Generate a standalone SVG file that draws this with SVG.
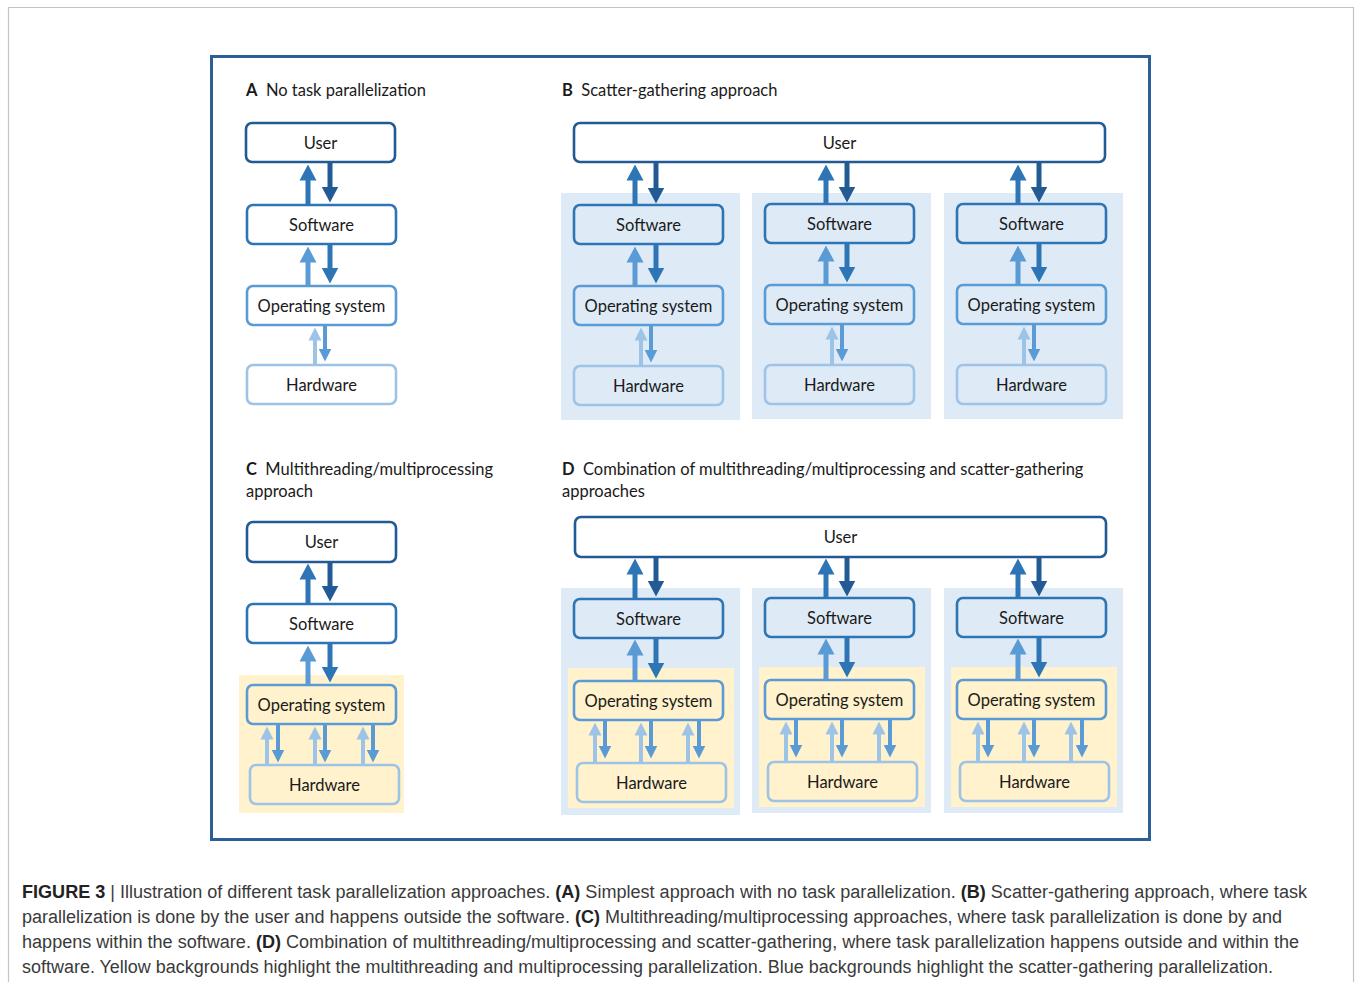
<svg xmlns="http://www.w3.org/2000/svg" width="1356" height="982" viewBox="0 0 1356 982">
<style>
.t{font-family:Lato,"Liberation Sans",sans-serif;font-size:16.5px;fill:#1a1a1a;text-anchor:middle;dominant-baseline:central}
.ttl{font-family:Lato,"Liberation Sans",sans-serif;font-size:16.5px;fill:#1a1a1a}
.ttl .b{font-weight:bold}
.box{fill:none;stroke-width:2.6}
.k1{stroke:#215a94}.k2{stroke:#2e75b6}.k3{stroke:#5b9bd5}.k4{stroke:#9dc3e6}
.bg-b{fill:#deebf7}.bg-y{fill:#fff2cc}
.a{fill:none;stroke-width:5}
.s{fill:none;stroke-width:4}
.cap{font-family:"Liberation Sans",Arial,sans-serif;font-size:18px;fill:#3a3a3a}
.cap .b{font-weight:bold;fill:#222}
</style>
<defs>
<marker id="m1" markerUnits="userSpaceOnUse" viewBox="0 -9 16 18" markerWidth="16" markerHeight="18" refX="0.5" refY="0" orient="auto"><path d="M0,-8.5 L16,0 L0,8.5z" fill="#215a94"/></marker>
<marker id="m2" markerUnits="userSpaceOnUse" viewBox="0 -9 16 18" markerWidth="16" markerHeight="18" refX="0.5" refY="0" orient="auto"><path d="M0,-8.5 L16,0 L0,8.5z" fill="#2e75b6"/></marker>
<marker id="m3" markerUnits="userSpaceOnUse" viewBox="0 -9 16 18" markerWidth="16" markerHeight="18" refX="0.5" refY="0" orient="auto"><path d="M0,-8.5 L16,0 L0,8.5z" fill="#5b9bd5"/></marker>
<marker id="n3" markerUnits="userSpaceOnUse" viewBox="0 -7 13 14" markerWidth="13" markerHeight="14" refX="0.5" refY="0" orient="auto"><path d="M0,-6.5 L13,0 L0,6.5z" fill="#5b9bd5"/></marker>
<marker id="n4" markerUnits="userSpaceOnUse" viewBox="0 -7 13 14" markerWidth="13" markerHeight="14" refX="0.5" refY="0" orient="auto"><path d="M0,-6.5 L13,0 L0,6.5z" fill="#9dc3e6"/></marker>
</defs>

<!-- outer frames -->
<path d="M8.5,982 V7.5 H1353.5 V982" fill="none" stroke="#c4c4c4" stroke-width="1.2"/>
<rect x="211.5" y="56.5" width="938" height="783" fill="none" stroke="#2a5f98" stroke-width="3"/>

<!-- backgrounds -->
<g id="backgrounds">
<rect class="bg-b" x="561" y="193" width="179" height="227"/>
<rect class="bg-b" x="752" y="193" width="179" height="226"/>
<rect class="bg-b" x="944" y="193" width="179" height="226"/>
<rect class="bg-y" x="239" y="675" width="165" height="138"/>
<rect class="bg-b" x="561" y="588" width="179" height="227"/>
<rect class="bg-b" x="752" y="588" width="179" height="225"/>
<rect class="bg-b" x="944" y="588" width="179" height="225"/>
<rect class="bg-y" x="568" y="668" width="166" height="140"/>
<rect class="bg-y" x="759" y="667" width="166" height="140"/>
<rect class="bg-y" x="951" y="667" width="166" height="140"/>
</g>

<!-- titles -->
<g id="titles">
<text class="ttl" x="246" y="96"><tspan class="b">A</tspan>&#160;&#160;No task parallelization</text>
<text class="ttl" x="562" y="96"><tspan class="b">B</tspan>&#160;&#160;Scatter-gathering approach</text>
<text class="ttl" x="246" y="475"><tspan class="b">C</tspan>&#160;&#160;Multithreading/multiprocessing</text>
<text class="ttl" x="246" y="497">approach</text>
<text class="ttl" x="562" y="475"><tspan class="b">D</tspan>&#160;&#160;Combination of multithreading/multiprocessing and scatter-gathering</text>
<text class="ttl" x="562" y="497">approaches</text>
</g>

<!-- Panel A -->
<g id="A-user"><rect class="box k1" x="246" y="123" width="149" height="39" rx="6"/><text class="t" x="320.5" y="143">User</text></g>
<g id="A-software"><rect class="box k2" x="247" y="205" width="149" height="39" rx="6"/><text class="t" x="321.5" y="225">Software</text></g>
<g id="A-os"><rect class="box k3" x="247" y="286" width="149" height="39" rx="6"/><text class="t" x="321.5" y="306">Operating system</text></g>
<g id="A-hw"><rect class="box k4" x="247" y="365" width="149" height="39" rx="6"/><text class="t" x="321.5" y="385">Hardware</text></g>

<!-- Panel B -->
<g id="B-user"><rect class="box k1" x="574" y="123" width="531" height="39" rx="6"/><text class="t" x="839.5" y="143">User</text></g>
<g id="B1-software"><rect class="box k2" x="574" y="205" width="149" height="39" rx="6"/><text class="t" x="648.5" y="225">Software</text></g>
<g id="B1-os"><rect class="box k3" x="574" y="286" width="149" height="39" rx="6"/><text class="t" x="648.5" y="306">Operating system</text></g>
<g id="B1-hw"><rect class="box k4" x="574" y="366" width="149" height="39" rx="6"/><text class="t" x="648.5" y="386">Hardware</text></g>
<g id="B2-software"><rect class="box k2" x="765" y="204" width="149" height="39" rx="6"/><text class="t" x="839.5" y="224">Software</text></g>
<g id="B2-os"><rect class="box k3" x="765" y="285" width="149" height="39" rx="6"/><text class="t" x="839.5" y="305">Operating system</text></g>
<g id="B2-hw"><rect class="box k4" x="765" y="365" width="149" height="39" rx="6"/><text class="t" x="839.5" y="385">Hardware</text></g>
<g id="B3-software"><rect class="box k2" x="957" y="204" width="149" height="39" rx="6"/><text class="t" x="1031.5" y="224">Software</text></g>
<g id="B3-os"><rect class="box k3" x="957" y="285" width="149" height="39" rx="6"/><text class="t" x="1031.5" y="305">Operating system</text></g>
<g id="B3-hw"><rect class="box k4" x="957" y="365" width="149" height="39" rx="6"/><text class="t" x="1031.5" y="385">Hardware</text></g>

<!-- Panel C -->
<g id="C-user"><rect class="box k1" x="247" y="522" width="149" height="40" rx="6"/><text class="t" x="321.5" y="542">User</text></g>
<g id="C-software"><rect class="box k2" x="247" y="604" width="149" height="39" rx="6"/><text class="t" x="321.5" y="624">Software</text></g>
<g id="C-os"><rect class="box k3" x="247" y="685" width="149" height="39" rx="6"/><text class="t" x="321.5" y="705">Operating system</text></g>
<g id="C-hw"><rect class="box k4" x="250" y="765" width="149" height="39" rx="6"/><text class="t" x="324.5" y="785">Hardware</text></g>

<!-- Panel D -->
<g id="D-user"><rect class="box k1" x="575" y="517" width="531" height="40" rx="6"/><text class="t" x="840.5" y="537">User</text></g>
<g id="D1-software"><rect class="box k2" x="574" y="599" width="149" height="39" rx="6"/><text class="t" x="648.5" y="619">Software</text></g>
<g id="D1-os"><rect class="box k3" x="574" y="681" width="149" height="39" rx="6"/><text class="t" x="648.5" y="701">Operating system</text></g>
<g id="D1-hw"><rect class="box k4" x="577" y="763" width="149" height="39" rx="6"/><text class="t" x="651.5" y="783">Hardware</text></g>
<g id="D2-software"><rect class="box k2" x="765" y="598" width="149" height="39" rx="6"/><text class="t" x="839.5" y="618">Software</text></g>
<g id="D2-os"><rect class="box k3" x="765" y="680" width="149" height="39" rx="6"/><text class="t" x="839.5" y="700">Operating system</text></g>
<g id="D2-hw"><rect class="box k4" x="768" y="762" width="149" height="39" rx="6"/><text class="t" x="842.5" y="782">Hardware</text></g>
<g id="D3-software"><rect class="box k2" x="957" y="598" width="149" height="39" rx="6"/><text class="t" x="1031.5" y="618">Software</text></g>
<g id="D3-os"><rect class="box k3" x="957" y="680" width="149" height="39" rx="6"/><text class="t" x="1031.5" y="700">Operating system</text></g>
<g id="D3-hw"><rect class="box k4" x="960" y="762" width="149" height="39" rx="6"/><text class="t" x="1034.5" y="782">Hardware</text></g>

<!-- connectors -->
<g id="connectors">
<!-- A -->
<line class="a k2" x1="308" y1="205" x2="308" y2="180" marker-end="url(#m2)"/>
<line class="a k1" x1="330" y1="163" x2="330" y2="187" marker-end="url(#m1)"/>
<line class="a k3" x1="308" y1="286" x2="308" y2="262" marker-end="url(#m3)"/>
<line class="a k2" x1="330" y1="245" x2="330" y2="268" marker-end="url(#m2)"/>
<line class="s k4" x1="315" y1="365" x2="315" y2="340" marker-end="url(#n4)"/>
<line class="s k3" x1="325" y1="326" x2="325" y2="349" marker-end="url(#n3)"/>
<!-- B -->
<line class="a k2" x1="635" y1="205" x2="635" y2="180" marker-end="url(#m2)"/>
<line class="a k1" x1="656" y1="163" x2="656" y2="188" marker-end="url(#m1)"/>
<line class="a k3" x1="635" y1="286" x2="635" y2="262" marker-end="url(#m3)"/>
<line class="a k2" x1="656" y1="245" x2="656" y2="268" marker-end="url(#m2)"/>
<line class="s k4" x1="641" y1="366" x2="641" y2="340" marker-end="url(#n4)"/>
<line class="s k3" x1="651" y1="326" x2="651" y2="350" marker-end="url(#n3)"/>
<line class="a k2" x1="826" y1="204" x2="826" y2="180" marker-end="url(#m2)"/>
<line class="a k1" x1="847" y1="163" x2="847" y2="187" marker-end="url(#m1)"/>
<line class="a k3" x1="826" y1="285" x2="826" y2="261" marker-end="url(#m3)"/>
<line class="a k2" x1="847" y1="244" x2="847" y2="267" marker-end="url(#m2)"/>
<line class="s k4" x1="832" y1="365" x2="832" y2="339" marker-end="url(#n4)"/>
<line class="s k3" x1="842" y1="325" x2="842" y2="349" marker-end="url(#n3)"/>
<line class="a k2" x1="1018" y1="204" x2="1018" y2="180" marker-end="url(#m2)"/>
<line class="a k1" x1="1039" y1="163" x2="1039" y2="187" marker-end="url(#m1)"/>
<line class="a k3" x1="1018" y1="285" x2="1018" y2="261" marker-end="url(#m3)"/>
<line class="a k2" x1="1039" y1="244" x2="1039" y2="267" marker-end="url(#m2)"/>
<line class="s k4" x1="1024" y1="365" x2="1024" y2="339" marker-end="url(#n4)"/>
<line class="s k3" x1="1034" y1="325" x2="1034" y2="349" marker-end="url(#n3)"/>
<!-- C -->
<line class="a k2" x1="308" y1="604" x2="308" y2="579" marker-end="url(#m2)"/>
<line class="a k1" x1="330" y1="563" x2="330" y2="586" marker-end="url(#m1)"/>
<line class="a k3" x1="308" y1="685" x2="308" y2="661" marker-end="url(#m3)"/>
<line class="a k2" x1="330" y1="644" x2="330" y2="667" marker-end="url(#m2)"/>
<line class="s k4" x1="267" y1="765" x2="267" y2="739" marker-end="url(#n4)"/>
<line class="s k3" x1="278" y1="725" x2="278" y2="750" marker-end="url(#n3)"/>
<line class="s k4" x1="315" y1="765" x2="315" y2="739" marker-end="url(#n4)"/>
<line class="s k3" x1="325" y1="725" x2="325" y2="750" marker-end="url(#n3)"/>
<line class="s k4" x1="363" y1="765" x2="363" y2="739" marker-end="url(#n4)"/>
<line class="s k3" x1="373" y1="725" x2="373" y2="750" marker-end="url(#n3)"/>
<!-- D -->
<line class="a k2" x1="635" y1="599" x2="635" y2="574" marker-end="url(#m2)"/>
<line class="a k1" x1="656" y1="558" x2="656" y2="581" marker-end="url(#m1)"/>
<line class="a k3" x1="635" y1="681" x2="635" y2="655" marker-end="url(#m3)"/>
<line class="a k2" x1="656" y1="639" x2="656" y2="663" marker-end="url(#m2)"/>
<line class="s k4" x1="595" y1="763" x2="595" y2="735" marker-end="url(#n4)"/>
<line class="s k3" x1="605" y1="721" x2="605" y2="746" marker-end="url(#n3)"/>
<line class="s k4" x1="641" y1="763" x2="641" y2="735" marker-end="url(#n4)"/>
<line class="s k3" x1="651" y1="721" x2="651" y2="746" marker-end="url(#n3)"/>
<line class="s k4" x1="688" y1="763" x2="688" y2="735" marker-end="url(#n4)"/>
<line class="s k3" x1="699" y1="721" x2="699" y2="746" marker-end="url(#n3)"/>
<line class="a k2" x1="826" y1="598" x2="826" y2="574" marker-end="url(#m2)"/>
<line class="a k1" x1="847" y1="558" x2="847" y2="581" marker-end="url(#m1)"/>
<line class="a k3" x1="826" y1="680" x2="826" y2="654" marker-end="url(#m3)"/>
<line class="a k2" x1="847" y1="638" x2="847" y2="662" marker-end="url(#m2)"/>
<line class="s k4" x1="786" y1="762" x2="786" y2="734" marker-end="url(#n4)"/>
<line class="s k3" x1="796" y1="720" x2="796" y2="745" marker-end="url(#n3)"/>
<line class="s k4" x1="832" y1="762" x2="832" y2="734" marker-end="url(#n4)"/>
<line class="s k3" x1="842" y1="720" x2="842" y2="745" marker-end="url(#n3)"/>
<line class="s k4" x1="879" y1="762" x2="879" y2="734" marker-end="url(#n4)"/>
<line class="s k3" x1="890" y1="720" x2="890" y2="745" marker-end="url(#n3)"/>
<line class="a k2" x1="1018" y1="598" x2="1018" y2="574" marker-end="url(#m2)"/>
<line class="a k1" x1="1039" y1="558" x2="1039" y2="581" marker-end="url(#m1)"/>
<line class="a k3" x1="1018" y1="680" x2="1018" y2="654" marker-end="url(#m3)"/>
<line class="a k2" x1="1039" y1="638" x2="1039" y2="662" marker-end="url(#m2)"/>
<line class="s k4" x1="978" y1="762" x2="978" y2="734" marker-end="url(#n4)"/>
<line class="s k3" x1="988" y1="720" x2="988" y2="745" marker-end="url(#n3)"/>
<line class="s k4" x1="1024" y1="762" x2="1024" y2="734" marker-end="url(#n4)"/>
<line class="s k3" x1="1034" y1="720" x2="1034" y2="745" marker-end="url(#n3)"/>
<line class="s k4" x1="1071" y1="762" x2="1071" y2="734" marker-end="url(#n4)"/>
<line class="s k3" x1="1082" y1="720" x2="1082" y2="745" marker-end="url(#n3)"/>
</g>

<!-- caption -->
<g id="caption">
<text class="cap" x="22" y="898" textLength="1285" lengthAdjust="spacingAndGlyphs"><tspan class="b">FIGURE 3</tspan> | Illustration of different task parallelization approaches. <tspan class="b">(A)</tspan> Simplest approach with no task parallelization. <tspan class="b">(B)</tspan> Scatter-gathering approach, where task</text>
<text class="cap" x="22" y="923" textLength="1260" lengthAdjust="spacingAndGlyphs">parallelization is done by the user and happens outside the software. <tspan class="b">(C)</tspan> Multithreading/multiprocessing approaches, where task parallelization is done by and</text>
<text class="cap" x="22" y="948" textLength="1277" lengthAdjust="spacingAndGlyphs">happens within the software. <tspan class="b">(D)</tspan> Combination of multithreading/multiprocessing and scatter-gathering, where task parallelization happens outside and within the</text>
<text class="cap" x="22" y="973" textLength="1251" lengthAdjust="spacingAndGlyphs">software. Yellow backgrounds highlight the multithreading and multiprocessing parallelization. Blue backgrounds highlight the scatter-gathering parallelization.</text>
</g>
</svg>
